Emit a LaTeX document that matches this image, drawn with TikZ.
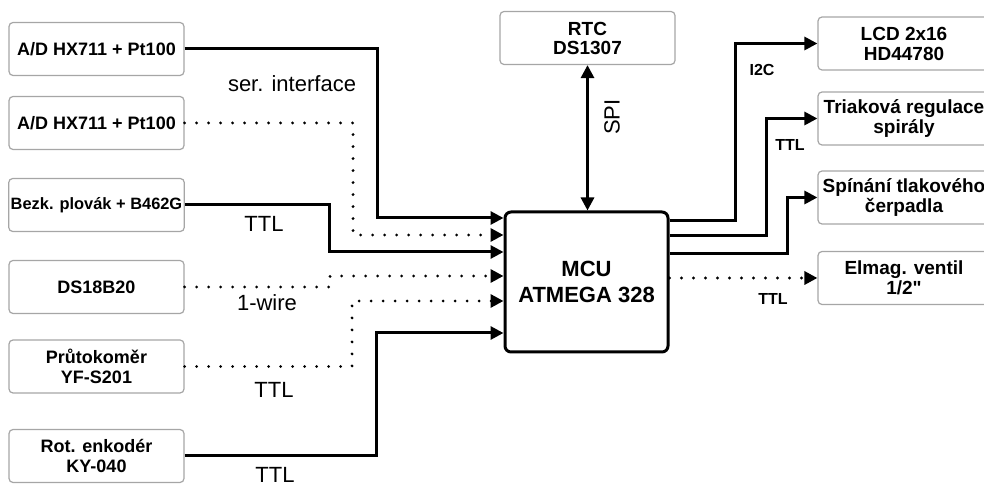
\documentclass[tikz,border=0pt]{standalone}
\usepackage{fontspec}
\setmainfont{Liberation Sans}[Ligatures=TeXOff]
\usetikzlibrary{arrows.meta,positioning}

\begin{document}
\begin{tikzpicture}[x=0.5pt,y=-0.5pt,
  box/.style={draw=black!35,fill=white,rounded corners=2pt,line width=0.6pt,
              minimum width=87.5pt,minimum height=26.5pt,inner sep=1pt,
              align=center,font=\fontsize{9}{10}\selectfont\bfseries},
  outbox/.style={box,minimum width=86pt,
              font=\fontsize{9.5}{10}\selectfont\bfseries},
  mcubox/.style={draw,line width=1.5pt,rounded corners=3pt,
              minimum width=81.5pt,minimum height=70pt,align=center,
              font=\fontsize{11}{13}\selectfont\bfseries},
  wire/.style={line width=1.5pt,-{Triangle[length=6.5pt,width=6.5pt]}},
  dotwire/.style={wire,line width=1.6pt,line cap=round,
              dash pattern=on 0pt off 6pt},
  lbl/.style={font=\fontsize{11}{12}\selectfont},
  blbl/.style={font=\fontsize{8}{9}\selectfont\bfseries}]
  \useasboundingbox (0,0) rectangle (984,485);
  \clip (0,0) rectangle (984,485);

  % sensors on the left
  \node[box] (ad1) at (96.5,49) {A/D HX711 + Pt100};
  \node[box] (ad2) at (96.5,123) {A/D HX711 + Pt100};
  \node[box,font=\fontsize{8.2}{10}\selectfont\bfseries]
        (plovak) at (96.5,205) {Bezk. plovák + B462G};
  \node[box] (ds) at (96.5,287) {DS18B20};
  \node[box] (prutok) at (96.5,366.5) {Průtokoměr\\YF-S201};
  \node[box] (enkoder) at (96.5,456) {Rot. enkodér\\KY-040};

  % controller and clock
  \node[box,font=\fontsize{9.5}{9.5}\selectfont\bfseries]
        (rtc) at (587.5,38) {RTC\\DS1307};
  \node[mcubox] (mcu) at (586.5,282) {MCU\\ATMEGA 328};

  % outputs on the right
  \node[outbox] (lcd) at (904,43.5) {LCD 2x16\\HD44780};
  \node[outbox] (triak) at (904,118.5) {Triaková regulace\\spirály};
  \node[outbox] (cerp) at (904,197.5) {Spínání tlakového\\čerpadla};
  \node[outbox] (ventil) at (904,278) {Elmag. ventil\\1/2"};

  % inputs
  \draw[wire] (ad1.east) -| (377,218) -- (mcu.west |- 0,218);
  \draw[dotwire] (ad2.east) -| (353,235) -- (mcu.west |- 0,235);
  \draw[wire] (plovak.east) -| (329,252) -- (mcu.west |- 0,252);
  \draw[dotwire] (ds.east) -| (330,276) -- (mcu.west |- 0,276);
  \draw[dotwire] (prutok.east) -| (352,301) -- (mcu.west |- 0,301);
  \draw[wire] (enkoder.east) -| (376,333) -- (mcu.west |- 0,333);

  % outputs
  \draw[wire] (mcu.east |- 0,221) -| (735,43.5) -- (lcd.west);
  \draw[wire] (mcu.east |- 0,236) -| (766,118.5) -- (triak.west);
  \draw[wire] (mcu.east |- 0,254) -| (787,197.5) -- (cerp.west);
  \draw[dotwire] (mcu.east |- ventil.west) -- (ventil.west);
  \draw[line width=1.5pt,{Triangle[length=6.5pt,width=6.5pt]}-{Triangle[length=6.5pt,width=6.5pt]}]
        (rtc.south) -- (rtc.south |- mcu.north);

  % bus labels
  \node[lbl] (lser) at (292,84) {ser. interface};
  \node[lbl] (lttla) at (264,224) {TTL};
  \node[lbl] (lwire) at (267,303) {1-wire};
  \node[lbl] (lttlb) at (274,390) {TTL};
  \node[lbl] (lttlc) at (275,475) {TTL};
  \node[lbl,rotate=90] (lspi) at (612,117) {SPI};
  \node[blbl] (li2c) at (762,70) {I2C};
  \node[blbl] (lttld) at (790,145) {TTL};
  \node[blbl] (lttle) at (773,299) {TTL};
\end{tikzpicture}
\end{document}
